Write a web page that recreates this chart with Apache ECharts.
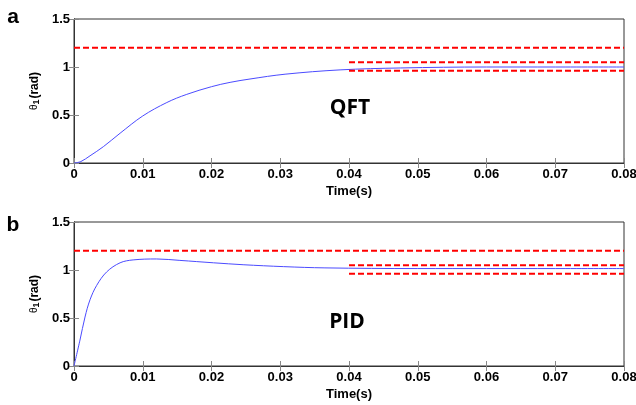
<!DOCTYPE html>
<html><head><meta charset="utf-8">
<script src="https://cdn.jsdelivr.net/npm/echarts@6/dist/echarts.min.js"></script>
<style>html,body{margin:0;padding:0;background:#fff}#c{width:636px;height:405px}</style>
</head><body><div id="c"></div>
<script>
// Panel a (QFT) response
const qftT = [0,0.001,0.00233,0.00427,0.0067,0.01,0.0135,0.0164,0.02,0.0227,0.0256,0.0307,0.0387,0.0475,0.06,0.07,0.08];
const qftV = [0,0.015,0.075,0.17,0.31,0.49,0.63,0.715,0.795,0.84,0.875,0.925,0.97,0.99,1.0,1.0,1.0];
// Panel b (PID) response
const pidT = [0,0.00087,0.0016,0.00233,0.0033,0.00475,0.0067,0.0086,0.012,0.0154,0.0203,0.0246,0.0305,0.0365,0.05,0.06,0.07,0.08];
const pidV = [0,0.27,0.51,0.69,0.84,0.98,1.075,1.105,1.115,1.10,1.075,1.055,1.035,1.022,1.015,1.015,1.015,1.015];
// Reference lines
const limitLine = [[0,1.2],[0.08,1.2]];
const bandUpper = [[0.04,1.05],[0.08,1.05]];
const bandLower = [[0.04,0.96],[0.08,0.96]];
const xTicks = {min:0,max:0.08,interval:0.01};
const yTicks = {min:0,max:1.5,interval:0.5};
const panelLabels = ['a','b'];
const panelTitles = ['QFT','PID'];

const zip = (t,v)=>t.map((x,i)=>[x,v[i]]);
const chart = echarts.init(document.getElementById('c'));
const grids = [
  {left:74, right:12, top:19, height:144, show:true, borderColor:'#333', borderWidth:1, backgroundColor:'#fff', containLabel:false, outerBoundsMode:'none'},
  {left:74, right:12, top:222, height:144, show:true, borderColor:'#333', borderWidth:1, backgroundColor:'#fff', containLabel:false, outerBoundsMode:'none'}
];
const lab = {fontFamily:'Liberation Sans, Arial', fontWeight:'bold', fontSize:13, color:'#000'};
const xAxes=[], yAxes=[];
[0,1].forEach(g=>{
  xAxes.push({type:'value',gridIndex:g,position:'bottom',min:xTicks.min,max:xTicks.max,interval:xTicks.interval,
    axisLine:{show:true,lineStyle:{color:'#333'}},axisTick:{show:true,inside:true,length:5,lineStyle:{color:'#888'}},
    axisLabel:Object.assign({margin:5},lab),splitLine:{show:false},
    name:'Time(s)',nameLocation:'middle',nameGap:22,nameTextStyle:Object.assign({},lab,{fontSize:13})});
  xAxes.push({type:'value',gridIndex:g,position:'top',min:xTicks.min,max:xTicks.max,interval:xTicks.interval,
    axisLine:{show:true,lineStyle:{color:'#333'}},axisTick:{show:true,inside:true,length:5,lineStyle:{color:'#888'}},
    axisLabel:{show:false},splitLine:{show:false}});
  yAxes.push({type:'value',gridIndex:g,position:'left',min:yTicks.min,max:yTicks.max,interval:yTicks.interval,
    axisLine:{show:true,lineStyle:{color:'#333'}},axisTick:{show:true,inside:true,length:5,lineStyle:{color:'#888'}},
    axisLabel:Object.assign({margin:4},lab),splitLine:{show:false},
    name:'{t|θ}{s|1}{r|(rad)}',nameLocation:'middle',nameGap:26,nameRotate:90,
    nameTextStyle:{rich:{t:{fontFamily:'Liberation Sans, Arial',fontSize:10,color:'#000'},
      s:{fontFamily:'Liberation Sans, Arial',fontSize:9,fontWeight:'bold',color:'#000',verticalAlign:'bottom',padding:[4,1,0,0]},
      r:{fontFamily:'Liberation Sans, Arial',fontSize:12,fontWeight:'bold',color:'#000'}}}});
  yAxes.push({type:'value',gridIndex:g,position:'right',min:yTicks.min,max:yTicks.max,interval:yTicks.interval,
    axisLine:{show:true,lineStyle:{color:'#333'}},axisTick:{show:true,inside:true,length:5,lineStyle:{color:'#888'}},
    axisLabel:{show:false},splitLine:{show:false}});
});
const series=[];
[0,1].forEach(g=>{
  const xi=g*2, yi=g*2;
  const red = {type:'line',xAxisIndex:xi,yAxisIndex:yi,symbol:'none',silent:true,z:3,
    lineStyle:{color:'#ff0000',width:2,type:[6,3]}};
  series.push(Object.assign({},red,{data:limitLine}));
  series.push(Object.assign({},red,{data:bandUpper}));
  series.push(Object.assign({},red,{data:bandLower}));
  series.push({type:'line',xAxisIndex:xi,yAxisIndex:yi,symbol:'none',smooth:0.35,z:2,
    lineStyle:{color:'#4b4bff',width:1},data: g===0?zip(qftT,qftV):zip(pidT,pidV)});
});
chart.setOption({
  animation:false,
  grid:grids, xAxis:xAxes, yAxis:yAxes, series:series,
  graphic:[
    {type:'text',x:13,y:17,style:{text:panelLabels[0],font:'bold 21px Liberation Sans',fill:'#000',align:'center',verticalAlign:'middle'}},
    {type:'text',x:13,y:225,style:{text:panelLabels[1],font:'bold 21px Liberation Sans',fill:'#000',align:'center',verticalAlign:'middle'}},
    {type:'text',x:350,y:108,style:{text:panelTitles[0],font:'bold 21px Open Sans',fill:'#000',align:'center',verticalAlign:'middle'}},
    {type:'text',x:347,y:322,style:{text:panelTitles[1],font:'bold 21px Open Sans',fill:'#000',align:'center',verticalAlign:'middle'}}
  ]
});
</script></body></html>
